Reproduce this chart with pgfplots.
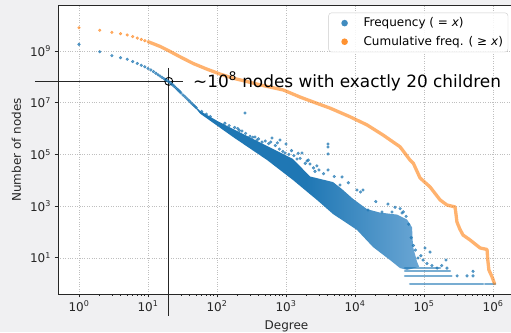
\documentclass[border=0pt]{standalone}
\usepackage{fontspec}
\setmainfont{DejaVu Sans}
\usepackage{pgfplots}
\pgfplotsset{compat=1.18}
\definecolor{tblue}{HTML}{1F77B4}
\definecolor{tlight}{HTML}{6AA6D4}
\definecolor{torange}{HTML}{FF7F0E}
\definecolor{bg}{HTML}{F0F0F2}
\definecolor{spine}{HTML}{262626}
\newcommand{\pw}[1]{10\textsuperscript{#1}}
\begin{document}
\begin{tikzpicture}[x=1pt,y=1pt]
\fill[bg] (0,0) rectangle (511,332);
\begin{axis}[
  at={(58pt,38pt)}, anchor=south west,
  scale only axis, width=457pt, height=288.3pt,
  xmode=log, ymode=log,
  xmin=0.4966, xmax=2.08e6, ymin=0.398, ymax=5.65e10,
  axis background/.style={fill=white},
  axis line style={spine, line width=0.8pt},
  xtick={1,10,100,1000,10000,100000,1000000},
  xticklabels={\pw{0},\pw{1},\pw{2},\pw{3},\pw{4},\pw{5},\pw{6}},
  ytick={10,1000,100000,10000000,1000000000},
  yticklabels={\pw{1},\pw{3},\pw{5},\pw{7},\pw{9}},
  yminorticks=false,
  xtick pos=left, ytick pos=left,
  tick align=outside,
  major tick length=3.5pt, minor tick length=2pt,
  every tick/.style={spine, line width=0.8pt},
  grid=major,
  major grid style={dotted, color=black!25, line width=0.5pt},
  tick label style={font=\fontsize{12}{14}\selectfont, text=spine},
  xlabel={Degree}, ylabel={Number of nodes},
  label style={font=\fontsize{12}{14}\selectfont, text=spine},
  xlabel style={at={(axis description cs:0.5,-0.1214)}, anchor=base},
  ylabel style={at={(axis description cs:-0.081,0.5)}, anchor=base},
  clip=false,
  legend style={at={(axis description cs:0.985,0.976)}, anchor=north east,
    draw=black!20, rounded corners=3pt, fill=white, fill opacity=0.85, text opacity=1,
    font=\fontsize{12}{14}\selectfont, row sep=4pt, inner xsep=3pt, inner ysep=3pt},
  legend cell align=left,
]
% ---- frequency: dense band
\addplot[draw=none, left color=tblue, right color=tlight, middle color=tblue, forget plot] coordinates {
 (45,8.6e6) (56.8,4.8e6) (100,2.0e6) (170.6,9.6e5) (531,2.11e5) (1262,6.64e4)
 (2228,1.4e4) (4797,8500) (6500,4500) (9354,1900) (14930,760) (23010,560)
 (40640,470) (56750,300) (66990,150) (69340,26) (79250,7) (85000,4.5)
 (56750,3.4) (44870,4.0) (32140,8.2) (18240,26) (10690,119) (4797,494)
 (2812,1722) (1262,1.02e4) (531,6.07e4) (170.6,4.71e5) (100,1.3e6)
 (56.8,3.8e6) (45,8.3e6)
} -- cycle;
% ---- frequency: rows of small counts
\addplot[tblue, opacity=0.6, line width=2.2pt, line cap=round, forget plot] coordinates {(53000,4) (171000,4)};
\addplot[tblue, opacity=0.6, line width=2.2pt, line cap=round, forget plot] coordinates {(53000,3) (238000,3)};
\addplot[tblue, opacity=0.6, line width=2.2pt, line cap=round, forget plot] coordinates {(53000,2) (250000,2)};
\addplot[tblue, opacity=0.6, line width=2.2pt, line cap=round, forget plot] coordinates {(62700,1) (717000,1)};
\addplot[tblue, opacity=0.6, line width=2.2pt, line cap=round, forget plot] coordinates {(766000,1) (1080000,1)};
% ---- frequency: single degrees and scattered points
\addplot[only marks, mark=*, mark size=1.4pt, color=tblue, opacity=0.7, forget plot] coordinates {
 (1,1.8e9) (2,9.3e8) (3,6.6e8) (4,5.5e8) (5,4.8e8) (6,3.9e8) (7,3.3e8) (8,2.8e8)
 (9,2.45e8) (10,2.1e8) (11,1.85e8) (12,1.6e8) (13,1.38e8) (14,1.2e8) (15,1.07e8)
 (16,9.5e7) (17,8.5e7) (18,7.7e7) (19,7.1e7) (20,6.5e7) (21,5.9e7) (22,5.2e7)
 (23,4.8e7) (24,4.3e7) (25,3.9e7) (26,3.5e7) (27,3.2e7) (28,2.9e7) (29,2.65e7)
 (30,2.4e7) (32,2.0e7) (34,1.75e7) (36,1.5e7) (38,1.3e7) (40,1.15e7) (42,1.0e7)
 (44,8.8e6) (46,8.0e6) (48,7.1e6) (50,6.4e6) (60,4.6e6) (70,3.6e6) (80,2.9e6)
 (254.6,4.0e6) (355.6,4.71e5) (627,4.31e5) (818,3.61e5) (1000,2.52e5) (1706,1.13e5)
 (2015,5.56e4) (2228,4.26e4) (693,1.13e5) (968,1.13e5) (1443,6.64e4) (2630,2.2e4)
 (4063,2.52e5) (4063,1.93e5) (4063,1.04e5) (4063,2.5e4) (6486,1.34e4) (6067,6546)
 (10690,4198) (13060,4198) (15420,706) (24600,592) (34360,592) (47970,541)
 (1.033e5,23.9) (1.222e5,16.7) (8.18e4,9.8) (9.68e4,8.2) (2.08e5,8.2) (1.543e5,4)
 (2.15e5,4) (5.13e5,3) (3.01e5,2) (4.2e5,2) (5.13e5,2)
 (200,1.0e6) (230,8.0e5) (300,5.0e5) (400,4.0e5) (450,3.0e5) (500,3.3e5) (560,2.6e5)
 (700,2.2e5) (800,1.6e5) (900,1.3e5) (1100,1.0e5) (1300,9.0e4) (1600,7.0e4)
 (1900,4.5e4) (2500,3.0e4) (3000,2.5e4) (3500,1.8e4) (5000,1.4e4) (8000,8000)
 (12000,3500) (20000,1500) (30000,1200) (38000,900) (45000,800) (50000,600)
 (55000,400) (60000,200) (65000,60) (70000,30) (75000,20) (90000,12) (110000,6)
 (130000,5) (180000,5)
 (130,1.6e6) (150,1.3e6) (180,1.1e6) (210,8.5e5) (260,6.5e5) (330,4.6e5) (380,3.6e5)
 (600,3.0e5) (750,2.8e5) (1200,1.4e5) (1500,1.1e5) (2100,6.0e4) (2800,3.6e4)
};
% ---- cumulative
\addplot[only marks, mark=*, mark size=1.4pt, color=torange, opacity=0.6, forget plot] coordinates {
 (1,7.94e9) (2,6.31e9) (3,5.25e9) (4,4.68e9) (5,4.17e9) (6,3.6e9) (7,3.15e9) (8,2.8e9) (9,2.5e9)
};
\addplot[torange, opacity=0.6, line width=3.3pt, line join=round, line cap=round, forget plot] coordinates {
 (10,2.29e9) (12,1.9e9) (15,1.5e9) (20,1.02e9) (29,6.0e8) (45,3.3e8) (71,2.0e8)
 (110,1.29e8) (170,8.9e7) (270,6.6e7) (420,4.9e7) (914,3.1e7) (1600,1.65e7)
 (2786,9.5e6) (4345,6.17e6) (8470,2.85e6) (14930,1.38e6) (25500,5.6e5)
 (44870,1.97e5) (62660,6.03e4) (69980,4.53e4) (87500,1.23e4) (122200,5500)
 (170600,1740) (215000,1100) (281000,930) (290000,500) (300000,240) (330000,130)
 (367000,76) (464000,49) (649000,24) (818000,21) (840000,8) (870000,3.4)
 (970000,1.8) (1050000,1)
};
% ---- annotation
\draw[spine, line width=0.9pt] (axis cs:0.23,6.7e7) -- (axis cs:32.2,6.7e7);
\draw[spine, line width=0.9pt] (axis cs:20,2.2e8) -- (axis cs:20,0.056);
\draw[black, line width=0.9pt] (axis cs:20,6.7e7) circle (4pt);
\node[anchor=west, inner sep=0pt, font=\fontsize{16.9}{18}\selectfont, text=black] at (axis cs:44.9,6.7e7) {∼10\textsuperscript{8} nodes with exactly 20 children};
% ---- legend
\addlegendimage{legend image code/.code={\path[draw=none, fill=none] (0pt,-4pt) -- (30pt,4pt); \fill[tblue, draw=none] (13pt,0pt) circle (3.3pt);}}
\addlegendentry{Frequency ( = \textit{x})}
\addlegendimage{legend image code/.code={\path[draw=none, fill=none] (0pt,-4pt) -- (30pt,4pt); \fill[torange, draw=none] (13pt,0pt) circle (3.3pt);}}
\addlegendentry{Cumulative freq. ( ≥ \textit{x})}
\end{axis}
\pgfresetboundingbox
\path (0,0) rectangle (511,332);
\end{tikzpicture}
\end{document}
